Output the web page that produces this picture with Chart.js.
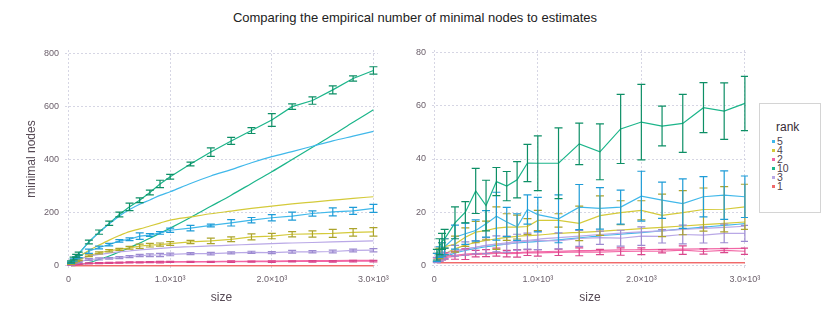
<!DOCTYPE html>
<html>
<head>
<meta charset="utf-8">
<script src="https://cdn.jsdelivr.net/npm/chart.js@4.4.0/dist/chart.umd.min.js"></script>
<style>
  body { margin: 0; background: #fff; width: 830px; height: 319px; overflow: hidden; position: relative;
         font-family: "Liberation Sans", Arial, sans-serif; }
  #title { position: absolute; left: 0; top: 10px; width: 830px; text-align: center; font-size: 13px; color: #222; }
  #left { position: absolute; left: 0; top: 30px; }
  #right { position: absolute; left: 400px; top: 30px; }
  #legend { position: absolute; left: 759px; top: 103px; width: 60px; height: 108px; border: 1px solid #d4d4d4; background: #fff; }
  #legend .ttl { position: absolute; left: 16px; top: 16px; font-size: 12px; color: #362a35; }
  #legend .item { position: absolute; left: 12px; height: 9px; font-size: 10.5px; line-height: 9px; color: #4c404b; }
  #legend .item i { display: inline-block; width: 3px; height: 3px; margin-right: 2px; vertical-align: 2px; }
</style>
</head>
<body>
<div id="title">Comparing the empirical number of minimal nodes to estimates</div>
<canvas id="left" width="400" height="280"></canvas>
<canvas id="right" width="370" height="280"></canvas>
<div id="legend"><div class="ttl">rank</div></div>
<script>
// sizes sampled
const sizes = [25, 50, 75, 100, 200, 300, 400, 500, 600, 700, 800, 900, 1000,
               1200, 1400, 1600, 1800, 2000, 2200, 2400, 2600, 2800, 3000];

const ranks = ["5", "4", "2", "10", "3", "1"];
const lineColors = { "5": "#40b8ea", "4": "#d4ca3a", "2": "#f266a5", "10": "#1bb58a", "3": "#b9a8e6", "1": "#f06a6a" };
const barColors  = { "5": "#1e9cd7", "4": "#aca42c", "2": "#d9468c", "10": "#0d8f66", "3": "#9c8ad0", "1": "#e05050" };

// left panel: minimal nodes
const nodes10 = [15, 28, 38, 46, 90, 127, 160, 193, 222, 247, 276, 308, 335, 383, 428, 470, 509, 549, 599, 622, 662, 705, 735];
const err10   = [4, 5, 5, 6, 7, 8, 8, 9, 14, 9, 9, 14, 9, 7, 16, 13, 11, 24, 10, 14, 15, 10, 14];
const est10   = [0, 1, 2, 4, 12, 24, 37, 52, 68, 86, 104, 123, 142, 182, 224, 266, 310, 354, 400, 446, 492, 540, 587];

const nodes5 = [12, 22, 30, 36, 55, 69, 80, 94, 100, 112, 116, 124, 134, 142, 152, 162, 172, 181, 187, 197, 203, 207, 216];
const err5   = [3, 4, 4, 5, 8, 5, 5, 5, 5, 12, 5, 5, 8, 10, 5, 12, 10, 12, 15, 10, 15, 13, 15];
const est5   = [12, 25, 35, 45, 90, 125, 158, 188, 212, 232, 248, 265, 279, 310, 338, 362, 388, 411, 430, 450, 470, 488, 506];

const nodes4 = [8, 14, 19, 23, 38, 49, 57, 62, 68, 74, 78, 80, 84, 90, 94, 100, 109, 112, 119, 120, 122, 126, 128];
const err4   = [2, 3, 3, 3, 3, 4, 4, 4, 5, 8, 7, 6, 7, 6, 10, 9, 11, 10, 10, 12, 15, 14, 16];
const est4   = [10, 20, 28, 35, 58, 78, 97, 114, 129, 139, 150, 161, 172, 184, 196, 206, 216, 225, 233, 240, 247, 254, 260];

const nodes3 = [6, 10, 13, 15, 24, 26, 28, 31, 35, 39, 40, 41, 43, 46, 46, 49, 51, 50, 53, 53, 54, 58, 59];
const err3   = [2, 2, 3, 3, 3, 4, 3, 4, 4, 4, 5, 6, 5, 4, 5, 4, 4, 4, 5, 4, 5, 5, 6];
const est3   = [8, 15, 20, 25, 36, 43, 48, 53, 56, 60, 63, 66, 69, 72, 75, 78, 81, 84, 86, 88, 90, 92, 94];

const nodes2 = [3, 5, 6, 7, 9, 10, 11, 12, 13, 13, 14, 14, 15, 15, 15, 16, 16, 16, 17, 17, 17, 18, 18];
const err2   = [1, 1, 1, 1.5, 2, 2, 2, 2, 2, 2, 2, 3, 2, 2, 2, 3, 2, 3, 2, 3, 3, 3, 3];
const est2   = [3, 5, 6, 7, 9, 10, 11, 12, 13, 13.5, 14, 14.5, 15, 15.8, 16.5, 17, 17.6, 18.2, 18.8, 19.4, 20, 20.5, 21];

const nodes1 = [1, 1, 1, 1, 1, 1, 1, 1, 1, 1, 1, 1, 1, 1, 1, 1, 1, 1, 1, 1, 1, 1, 1];
const est1   = [1, 1, 1, 1, 1, 1, 1, 1, 1, 1, 1, 1, 1, 1, 1, 1, 1, 1, 1, 1, 1, 1, 1];

// right panel
const b10  = [4, 7, 9, 10, 16, 20, 28, 22.5, 31.5, 29.8, 32.2, 38.5, 38.4, 38.4, 45.7, 42.7, 51.3, 53.9, 52.4, 53.4, 59.3, 58.0, 60.9];
const be10 = [2, 3, 3, 3.5, 6, 4, 8.5, 9.5, 5.3, 5.5, 6.8, 7, 10.3, 13.3, 7.8, 10.5, 13, 14.2, 7.5, 10.9, 9.4, 10.6, 10.2];

const b5    = [3, 5, 6, 7, 10.6, 11.9, 13.1, 15.6, 18.5, 16.3, 14.4, 21, 19.1, 17.5, 21.9, 21.4, 21.9, 26, 24.5, 23.2, 25.8, 26.4, 25.8];
const be5   = [1.5, 2, 2.5, 3, 4.5, 4, 4, 5, 9, 5.5, 5, 5.5, 6.5, 9, 8.5, 7.8, 6.4, 9.4, 6.8, 9.3, 7.6, 9.1, 7.8];
const bEst5 = [1.2, 2, 2.6, 3.1, 4.6, 5.6, 6.4, 7, 7.5, 8, 8.4, 8.7, 9, 9.6, 10.3, 11.1, 11.7, 12.3, 13, 13.7, 14.4, 15, 15.7];

const b4    = [3, 4.5, 6, 7, 8, 10.6, 12.5, 13.1, 14, 14.4, 14.4, 14.6, 16.9, 16.9, 15.8, 18.7, 19.8, 20.7, 18.8, 19.8, 21, 21.1, 22];
const be4   = [1.5, 2, 2.5, 3, 3, 3.5, 4, 3.5, 8, 5, 4.5, 3, 3.8, 2.5, 6.5, 7.4, 4.5, 3.6, 8, 8.3, 8.1, 8.5, 8.5];
const bEst4 = [1.8, 2.8, 3.5, 4.2, 6.2, 7.6, 8.6, 9.4, 10, 10.5, 10.9, 11.2, 11.4, 12, 12.4, 12.8, 13.3, 13.8, 14.3, 14.8, 15.3, 15.8, 16.3];

const b3    = [2, 3, 3.5, 4.5, 5.5, 6.3, 6.8, 7.4, 8.1, 8, 8.7, 9.1, 9.4, 9.2, 10.1, 10.4, 10.2, 11, 10.9, 11.6, 11.4, 12, 12];
const be3   = [1, 1.5, 1.5, 2, 2, 2.5, 2.5, 3, 3, 3, 3, 3, 3.5, 3, 3, 2.5, 3, 3.5, 2.5, 3.5, 3, 3.5, 3];
const bEst3 = [1.5, 2.3, 3, 3.5, 5, 6, 6.8, 7.5, 8, 8.5, 9, 9.4, 9.8, 10.4, 11, 11.6, 12.1, 12.6, 13, 13.5, 13.9, 14.3, 14.7];

const b2    = [2, 2.5, 3, 3.5, 3.8, 4.2, 4.4, 4.6, 5, 4.4, 4.5, 4.8, 4.7, 4.9, 5.1, 5.0, 5.2, 5.3, 5.3, 5.7, 5.2, 5.6, 5.3];
const be2   = [0.8, 1, 1, 1.2, 1.5, 2, 1.2, 1.3, 1.5, 1.2, 1.4, 1.1, 1.2, 1.2, 1.5, 1, 1.4, 1.3, 0.6, 1.6, 1, 0.8, 1.2];
const bEst2 = [1.5, 2, 2.4, 2.8, 3.4, 3.8, 4.1, 4.3, 4.5, 4.7, 4.8, 5, 5.1, 5.3, 5.5, 5.6, 5.8, 5.9, 6.0, 6.1, 6.2, 6.3, 6.4];

const xTicks = [0, 1000, 2000, 3000];
const leftYTicks = [0, 200, 400, 600, 800];
const rightYTicks = [0, 20, 40, 60, 80];

function pts(vals) {
  return sizes.map((s, i) => ({ x: s, y: vals[i] }));
}

function empirical(rank, vals, errs) {
  return { data: pts(vals), errors: errs, barColor: barColors[rank],
           borderColor: lineColors[rank], borderWidth: 1.2, pointRadius: 0, tension: 0 };
}

function estimate(rank, vals) {
  return { data: pts(vals), borderColor: lineColors[rank], borderWidth: 1.2,
           pointRadius: 0, cubicInterpolationMode: "monotone" };
}

const errorBars = {
  id: "errorBars",
  afterDatasetsDraw(chart) {
    const { ctx, chartArea, scales } = chart;
    ctx.save();
    ctx.beginPath();
    ctx.rect(chartArea.left, chartArea.top, chartArea.width, chartArea.height);
    ctx.clip();
    ctx.lineWidth = 1.2;
    chart.data.datasets.forEach(ds => {
      if (!ds.errors) return;
      ctx.strokeStyle = ds.barColor;
      ds.data.forEach((p, i) => {
        const e = ds.errors[i];
        if (!e) return;
        const px = scales.x.getPixelForValue(p.x);
        const top = scales.y.getPixelForValue(p.y + e);
        const bot = scales.y.getPixelForValue(p.y - e);
        ctx.beginPath();
        ctx.moveTo(px, top); ctx.lineTo(px, bot);
        ctx.moveTo(px - 4, top); ctx.lineTo(px + 4, top);
        ctx.moveTo(px - 4, bot); ctx.lineTo(px + 4, bot);
        ctx.stroke();
      });
    });
    ctx.restore();
  }
};

const tickFont = { family: "'Liberation Sans', Arial, sans-serif", size: 9 };
const titleFont = { family: "'Liberation Sans', Arial, sans-serif", size: 12 };

function makeChart(id, datasets, x0, x1, y0, y1, yTicks, yWidth, padRight, yTitle) {
  return new Chart(document.getElementById(id), {
    type: "line",
    data: { datasets: datasets },
    plugins: [errorBars],
    options: {
      responsive: false,
      animation: false,
      layout: { padding: { top: 20, right: padRight, left: 0, bottom: 0 } },
      plugins: { legend: { display: false }, tooltip: { enabled: false } },
      scales: {
        x: {
          type: "linear", min: x0, max: x1,
          afterBuildTicks: s => { s.ticks = xTicks.map(v => ({ value: v })); },
          afterFit: s => { s.height = 42; },
          ticks: { font: tickFont, color: "#6c606b", padding: 6, maxRotation: 0,
                   callback: v => v === 0 ? "0" : (v / 1000).toFixed(1) + "×10³" },
          grid: { color: "#d6d6e4", drawTicks: false },
          border: { display: false, dash: [2, 2] },
          title: { display: true, text: "size", font: titleFont, color: "#564a55", padding: { top: 0, bottom: 5 } }
        },
        y: {
          type: "linear", min: y0, max: y1,
          afterBuildTicks: s => { s.ticks = yTicks.map(v => ({ value: v })); },
          afterFit: s => { s.width = yWidth; },
          ticks: { font: tickFont, color: "#6c606b", padding: 6 },
          grid: { color: "#d6d6e4", drawTicks: false },
          border: { display: false, dash: [2, 2] },
          title: { display: !!yTitle, text: yTitle || "", font: titleFont, color: "#564a55", padding: { top: 24, bottom: 0 } }
        }
      }
    }
  });
}

makeChart("left", [
  estimate("1", est1), empirical("1", nodes1, null),
  estimate("2", est2), empirical("2", nodes2, err2),
  estimate("3", est3), empirical("3", nodes3, err3),
  estimate("4", est4), empirical("4", nodes4, err4),
  estimate("5", est5), empirical("5", nodes5, err5),
  estimate("10", est10), empirical("10", nodes10, err10)
], -35, 3045, -8, 812, leftYTicks, 65, 22, "minimal nodes");

makeChart("right", [
  estimate("1", est1), empirical("1", nodes1, null),
  estimate("2", bEst2), empirical("2", b2, be2),
  estimate("3", bEst3), empirical("3", b3, be3),
  estimate("4", bEst4), empirical("4", b4, be4),
  estimate("5", bEst5), empirical("5", b5, be5),
  empirical("10", b10, be10)
], -22, 3030, -1, 81, rightYTicks, 32, 22, null);

const legend = document.getElementById("legend");
ranks.forEach((r, i) => {
  const d = document.createElement("div");
  d.className = "item";
  d.style.top = (33 + i * 9) + "px";
  d.innerHTML = '<i style="background:' + lineColors[r] + '"></i>' + r;
  legend.appendChild(d);
});
</script>
</body>
</html>
